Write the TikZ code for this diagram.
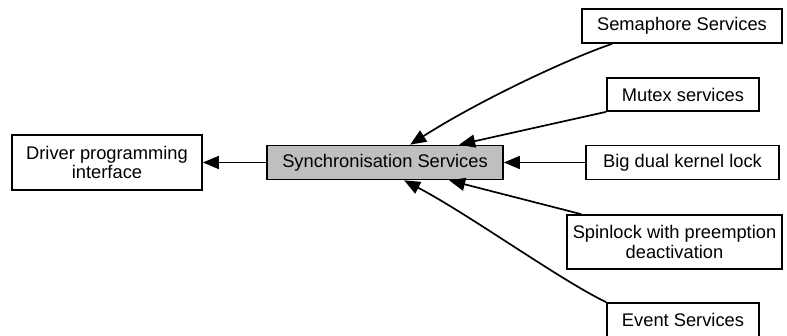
\documentclass[tikz,border=0pt]{standalone}
\usepackage{fontspec}
\setmainfont{Liberation Sans}
\usetikzlibrary{arrows.meta}
\begin{document}
\begin{tikzpicture}[x=1pt,y=-1pt,
  box/.style={draw=black, line width=1.7pt, fill=white, inner sep=0pt, align=center,
    font=\fontsize{18.3}{19.5}\selectfont},
  hub/.style={box, fill=black!25},
  link/.style={line width=1.7pt, -{Triangle[length=16pt,width=13pt]}}]
\useasboundingbox (0,0) rectangle (787,336);
\node[box, minimum width=190pt, minimum height=55pt] (drv) at (107,162.5) {Driver programming\\interface};
\node[hub, minimum width=236pt, minimum height=34pt] (sync) at (385,162.5) {Synchronisation Services};
\node[box, minimum width=200pt, minimum height=34pt] (sem) at (682,26) {Semaphore Services};
\node[box, minimum width=152pt, minimum height=33pt] (mtx) at (683,94.5) {Mutex services};
\node[box, minimum width=193pt, minimum height=34pt] (big) at (682.5,162.5) {Big dual kernel lock};
\node[box, minimum width=215pt, minimum height=54pt] (spin) at (674.5,242) {Spinlock with preemption\\deactivation};
\node[box, minimum width=152pt, minimum height=34pt] (evt) at (683,320) {Event Services};
\coordinate (semA) at ([xshift=31pt]sem.south west);
\coordinate (semT) at ([xshift=144pt]sync.north west);
\coordinate (mtxT) at ([xshift=193pt]sync.north west);
\coordinate (spinA) at ([xshift=15pt]spin.north west);
\coordinate (spinT) at ([xshift=183pt]sync.south west);
\coordinate (evtT) at ([xshift=138pt]sync.south west);
\draw[link] (sync.west) -- (drv.east);
\draw[link] (semA) .. controls (570,58) and (480,100) .. (semT);
\draw[link] (mtx.south west) -- (mtxT);
\draw[link] (big.west) -- (sync.east);
\draw[link] (spinA) -- (spinT);
\draw[link] (evt.north west) .. controls (560,280) and (470,215) .. (evtT);
\end{tikzpicture}
\end{document}
